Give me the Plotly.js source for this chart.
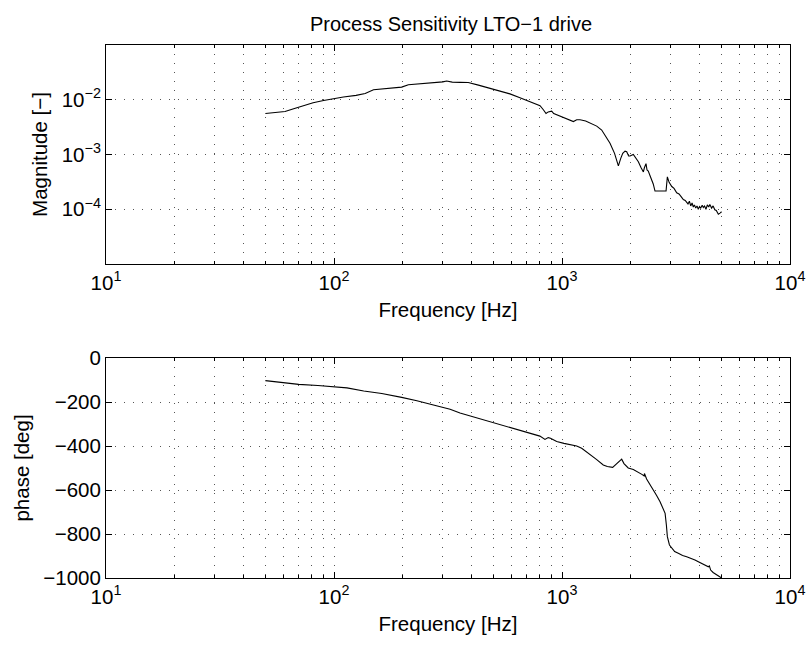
<!DOCTYPE html>
<html>
<head>
<meta charset="utf-8">
<script src="https://cdn.plot.ly/plotly-3.0.1.min.js"></script>
<style>html,body{margin:0;padding:0;background:#fff;}#chart{width:809px;height:646px;}</style>
</head>
<body>
<div id="chart"></div>
<script>
// Magnitude response
const magFreq = [50,55,61,66,71,76,81,90,99,110,125,137,149,170,198,212,240,273,300,312,330,357,388,430,483,530,591,650,700,760,801,830,851,870,901,920,948,1000,1060,1122,1160,1200,1270,1350,1420,1493,1560,1624,1700,1767,1810,1847,1890,1922,1960,1987,2055,2110,2162,2220,2275,2300,2336,2360,2390,2450,2513,2558,2700,2860,2898,2950,3030,3100,3185,3260,3330,3405,3470,3520,3570,3620,3670,3720,3767,3810,3860,3910,3960,4010,4060,4120,4167,4220,4280,4340,4400,4450,4531,4600,4680,4750,4800,4850,4930,5012];
const magValues = [5.6e-3,5.8e-3,6.1e-3,6.8e-3,7.5e-3,8.2e-3,8.8e-3,9.7e-3,1.05e-2,1.12e-2,1.2e-2,1.3e-2,1.52e-2,1.6e-2,1.7e-2,1.88e-2,1.95e-2,2.05e-2,2.12e-2,2.2e-2,2.1e-2,2.08e-2,2.07e-2,1.85e-2,1.62e-2,1.48e-2,1.28e-2,1.1e-2,9.7e-3,8.6e-3,7.8e-3,6.5e-3,5.6e-3,6.0e-3,6.2e-3,5.6e-3,5.3e-3,4.9e-3,4.4e-3,4.0e-3,4.3e-3,4.3e-3,4.1e-3,3.7e-3,3.3e-3,2.8e-3,2.1e-3,1.6e-3,1.05e-3,6.2e-4,8.5e-4,1.05e-3,1.15e-3,1.12e-3,9.4e-4,9.4e-4,1.0e-3,8.6e-4,7.4e-4,5.8e-4,4.8e-4,5.8e-4,6.8e-4,5.2e-4,5.0e-4,3.8e-4,2.9e-4,2.15e-4,2.15e-4,2.15e-4,3.9e-4,3.1e-4,2.6e-4,2.4e-4,2.0e-4,1.9e-4,1.7e-4,1.5e-4,1.45e-4,1.35e-4,1.25e-4,1.4e-4,1.15e-4,1.3e-4,1.1e-4,1.2e-4,1.05e-4,1.15e-4,1.0e-4,1.12e-4,1.05e-4,1.18e-4,1.08e-4,1.15e-4,1.0e-4,1.2e-4,1.1e-4,1.22e-4,1.05e-4,1.15e-4,9.8e-5,9.5e-5,8.4e-5,8.1e-5,8.5e-5,9.0e-5];

// Phase response
const phaseFreq = [50,60,70,85,99,114,135,162,198,231,273,323,357,408,483,540,611,680,748,800,842,870,890,920,948,1020,1101,1160,1220,1283,1350,1420,1517,1580,1668,1720,1790,1827,1870,1952,2055,2150,2250,2292,2300,2350,2450,2513,2600,2692,2760,2833,2870,2898,2960,3030,3120,3236,3380,3522,3700,3830,3962,4150,4385,4430,4487,4600,4765,4850,4966,5012];
const phaseValues = [-103,-112,-120,-125,-130,-136,-150,-161,-179,-194,-214,-233,-250,-267,-289,-305,-320,-333,-345,-355,-370,-362,-365,-373,-380,-388,-395,-400,-410,-426,-445,-462,-486,-493,-497,-485,-465,-460,-480,-500,-507,-517,-530,-536,-525,-550,-580,-597,-625,-653,-680,-706,-760,-812,-850,-865,-880,-888,-898,-903,-910,-918,-926,-935,-949,-945,-964,-975,-985,-990,-995,-1000];

// Tick labels
const freqTickVals = [10,100,1000,10000];
const freqTickText = ['10<sup>1</sup>','10<sup>2</sup>','10<sup>3</sup>','10<sup>4</sup>'];
const freqMinorVals = [20,30,40,50,60,70,80,90,200,300,400,500,600,700,800,900,2000,3000,4000,5000,6000,7000,8000,9000];
const magTickVals = [1e-4,1e-3,1e-2];
const magTickText = ['10<sup>\u22124</sup>','10<sup>\u22123</sup>','10<sup>\u22122</sup>'];
const phaseTickVals = [-1000,-800,-600,-400,-200,0];
const phaseTickText = ['\u22121000','\u2212800','\u2212600','\u2212400','\u2212200','0'];

const FONT = 'Liberation Sans, Arial, Helvetica, sans-serif';
const GRID = '#555';
const DASH = '1px,8px';

function xAxis(anchor) {
  return {
    type: 'log', range: [1, 4], domain: [106/809, 790/809], anchor: anchor,
    tickmode: 'array', tickvals: freqTickVals, ticktext: freqTickText,
    ticks: 'inside', ticklen: 6, tickwidth: 1, tickcolor: '#000',
    showline: true, linecolor: '#000', linewidth: 1, mirror: 'allticks',
    showgrid: true, gridcolor: GRID, gridwidth: 1, griddash: DASH,
    zeroline: false,
    minor: {tickmode: 'array', tickvals: freqMinorVals, ticks: 'inside', ticklen: 3, tickcolor: '#000',
            showgrid: true, gridcolor: GRID, gridwidth: 1, griddash: DASH},
    tickfont: {family: FONT, size: 20.5, color: '#000'},
    title: {text: 'Frequency [Hz]', font: {family: FONT, size: 20.5, color: '#000'}, standoff: 10},
    automargin: false
  };
}

const traces = [
  {x: magFreq, y: magValues, type: 'scatter', mode: 'lines', xaxis: 'x', yaxis: 'y',
   line: {color: '#000', width: 1.1}, showlegend: false},
  {x: phaseFreq, y: phaseValues, type: 'scatter', mode: 'lines', xaxis: 'x2', yaxis: 'y2',
   line: {color: '#000', width: 1.1}, showlegend: false}
];

const layout = {
  width: 809, height: 646,
  margin: {l: 0, r: 0, t: 0, b: 0},
  paper_bgcolor: '#fff', plot_bgcolor: '#fff',
  showlegend: false,
  font: {family: FONT, size: 20.5, color: '#000'},
  title: {text: 'Process Sensitivity LTO\u22121 drive', font: {family: FONT, size: 20, color: '#000'},
          x: 451/809, xanchor: 'center', xref: 'paper', y: 1 - 24/646, yanchor: 'middle', yref: 'container'},
  xaxis: xAxis('y'),
  xaxis2: xAxis('y2'),
  yaxis: {
    type: 'log', range: [-5, -1], domain: [1 - 264/646, 1 - 45/646], anchor: 'x',
    tickmode: 'array', tickvals: magTickVals, ticktext: magTickText,
    ticks: 'inside', ticklen: 6, tickcolor: '#000',
    showline: true, linecolor: '#000', linewidth: 1, mirror: 'allticks',
    showgrid: true, gridcolor: GRID, gridwidth: 1, griddash: DASH, zeroline: false,
    tickfont: {family: FONT, size: 20.5, color: '#000'},
    title: {text: 'Magnitude [\u2212]', font: {family: FONT, size: 20.5, color: '#000'}, standoff: 8},
    automargin: false
  },
  yaxis2: {
    type: 'linear', range: [-1000, 0], domain: [1 - 578/646, 1 - 358/646], anchor: 'x2',
    tickmode: 'array', tickvals: phaseTickVals, ticktext: phaseTickText,
    ticks: 'inside', ticklen: 6, tickcolor: '#000',
    showline: true, linecolor: '#000', linewidth: 1, mirror: 'allticks',
    showgrid: true, gridcolor: GRID, gridwidth: 1, griddash: DASH, zeroline: false,
    tickfont: {family: FONT, size: 20.5, color: '#000'},
    title: {text: 'phase [deg]', font: {family: FONT, size: 20.5, color: '#000'}, standoff: 8},
    automargin: false
  }
};

Plotly.newPlot('chart', traces, layout, {displayModeBar: false, staticPlot: true});
</script>
</body>
</html>
